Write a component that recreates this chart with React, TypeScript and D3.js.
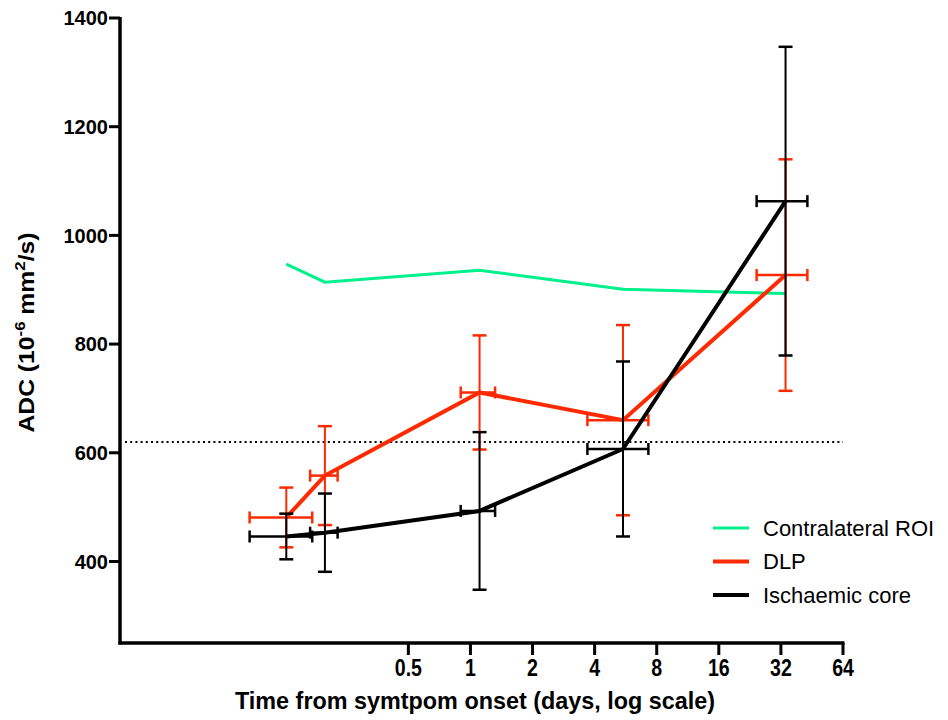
import React from 'react';
import * as d3 from 'd3';

// days since symptom onset (mean per time point) and its SD
const days = [0.128, 0.197, 1.107, 5.49, 33.7];
const daysErr = [0.043, 0.03, 0.21, 1.8, 9.3];

// ADC values, 10^-6 mm2/s
const contralateral = [947, 914, 936, 901, 893];
const dlp = [481, 558, 711, 660, 927];
const dlpErr = [55, 91, 105, 175, 213];
const core = [446, 453, 493, 607, 1063];
const coreErr = [42, 72, 145, 161, 284];

const threshold = 620;
const yTicks = [400, 600, 800, 1000, 1200, 1400];
const xTicks = [0.5, 1, 2, 4, 8, 16, 32, 64];
const legendItems = ['Contralateral ROI', 'DLP', 'Ischaemic core'];

const GREEN = '#00f08c';
const RED = '#ff2a00';
const BLACK = '#000000';

const W = 948;
const H = 720;
const left = 120, right = 843, top = 18, bottom = 643;

const x = d3.scaleLog().domain([0.02, 64]).range([left, right]);
const y = d3.scaleLinear().domain([250, 1400]).range([bottom, top]);

const line = d3.line<number>()
  .x((_, i) => x(days[i]))
  .y(d => y(d));

const ErrorBars = ({ values, errs, color }: { values: number[]; errs: number[]; color: string }) => (
  <g stroke={color} fill="none">
    {values.map((v, i) => {
      const cx = x(days[i]);
      const cy = y(v);
      const y0 = y(v - errs[i]);
      const y1 = y(v + errs[i]);
      const x0 = x(days[i] - daysErr[i]);
      const x1 = x(days[i] + daysErr[i]);
      return (
        <g key={i}>
          <line x1={cx} x2={cx} y1={y0} y2={y1} strokeWidth={2} />
          <line x1={cx - 7} x2={cx + 7} y1={y0} y2={y0} strokeWidth={2.5} />
          <line x1={cx - 7} x2={cx + 7} y1={y1} y2={y1} strokeWidth={2.5} />
          <line x1={x0} x2={x1} y1={cy} y2={cy} strokeWidth={2.5} />
          <line x1={x0} x2={x0} y1={cy - 6} y2={cy + 6} strokeWidth={2.5} />
          <line x1={x1} x2={x1} y1={cy - 6} y2={cy + 6} strokeWidth={2.5} />
        </g>
      );
    })}
  </g>
);

export default function App() {
  const legendColors = [GREEN, RED, BLACK];
  return (
    <svg width={W} height={H} style={{ position: 'absolute', left: 0, top: 0 }}
      fontFamily="'Liberation Sans', Arial, sans-serif">
      <rect width={W} height={H} fill="#fff" />

      {/* threshold */}
      <line x1={left + 5} x2={right} y1={y(threshold)} y2={y(threshold)}
        stroke="#000" strokeWidth={2} strokeDasharray="2,3.2" />

      {/* series */}
      <path d={line(contralateral) ?? ''} fill="none" stroke={GREEN} strokeWidth={3} />
      <ErrorBars values={dlp} errs={dlpErr} color={RED} />
      <path d={line(dlp) ?? ''} fill="none" stroke={RED} strokeWidth={4} />
      <ErrorBars values={core} errs={coreErr} color={BLACK} />
      <path d={line(core) ?? ''} fill="none" stroke={BLACK} strokeWidth={4} />

      {/* y axis */}
      <line x1={left} x2={left} y1={top - 1} y2={bottom + 1.5} stroke="#000" strokeWidth={3.5} />
      {yTicks.map(t => (
        <g key={t}>
          <line x1={left - 11} x2={left} y1={y(t)} y2={y(t)} stroke="#000" strokeWidth={3} />
          <text x={left - 12} y={y(t)} dy="0.36em" textAnchor="end" fontSize={20} fontWeight="bold">{t}</text>
        </g>
      ))}

      {/* x axis */}
      <line x1={left - 1.5} x2={right + 1.5} y1={bottom} y2={bottom} stroke="#000" strokeWidth={3.5} />
      {xTicks.map(t => (
        <g key={t}>
          <line x1={x(t)} x2={x(t)} y1={bottom} y2={bottom + 12} stroke="#000" strokeWidth={3} />
          <text transform={`translate(${x(t)},${bottom + 33}) scale(0.85,1)`} textAnchor="middle"
            fontSize={23} fontWeight="bold">{t}</text>
        </g>
      ))}

      <text x={475} y={H - 11} textAnchor="middle" fontSize={24} fontWeight="bold"
        textLength={480} lengthAdjust="spacingAndGlyphs">
        Time from symtpom onset (days, log scale)
      </text>

      <text transform={`translate(34,${(top + bottom) / 2 + 2}) rotate(-90)`} textAnchor="middle"
        fontSize={22} fontWeight="bold" textLength={200} lengthAdjust="spacingAndGlyphs">
        ADC (10<tspan fontSize={15} dy={-9}>-6</tspan><tspan dy={9}> mm</tspan>
        <tspan fontSize={15} dy={-9}>2</tspan><tspan dy={9}>/s)</tspan>
      </text>

      {/* legend */}
      {legendItems.map((name, i) => (
        <g key={name} transform={`translate(713,${528 + i * 33.5})`}>
          <line x1={0} x2={36} y1={0} y2={0} stroke={legendColors[i]} strokeWidth={i === 0 ? 3 : 4} />
          <text x={50} y={0} dy="0.36em" fontSize={22}>{name}</text>
        </g>
      ))}
    </svg>
  );
}
